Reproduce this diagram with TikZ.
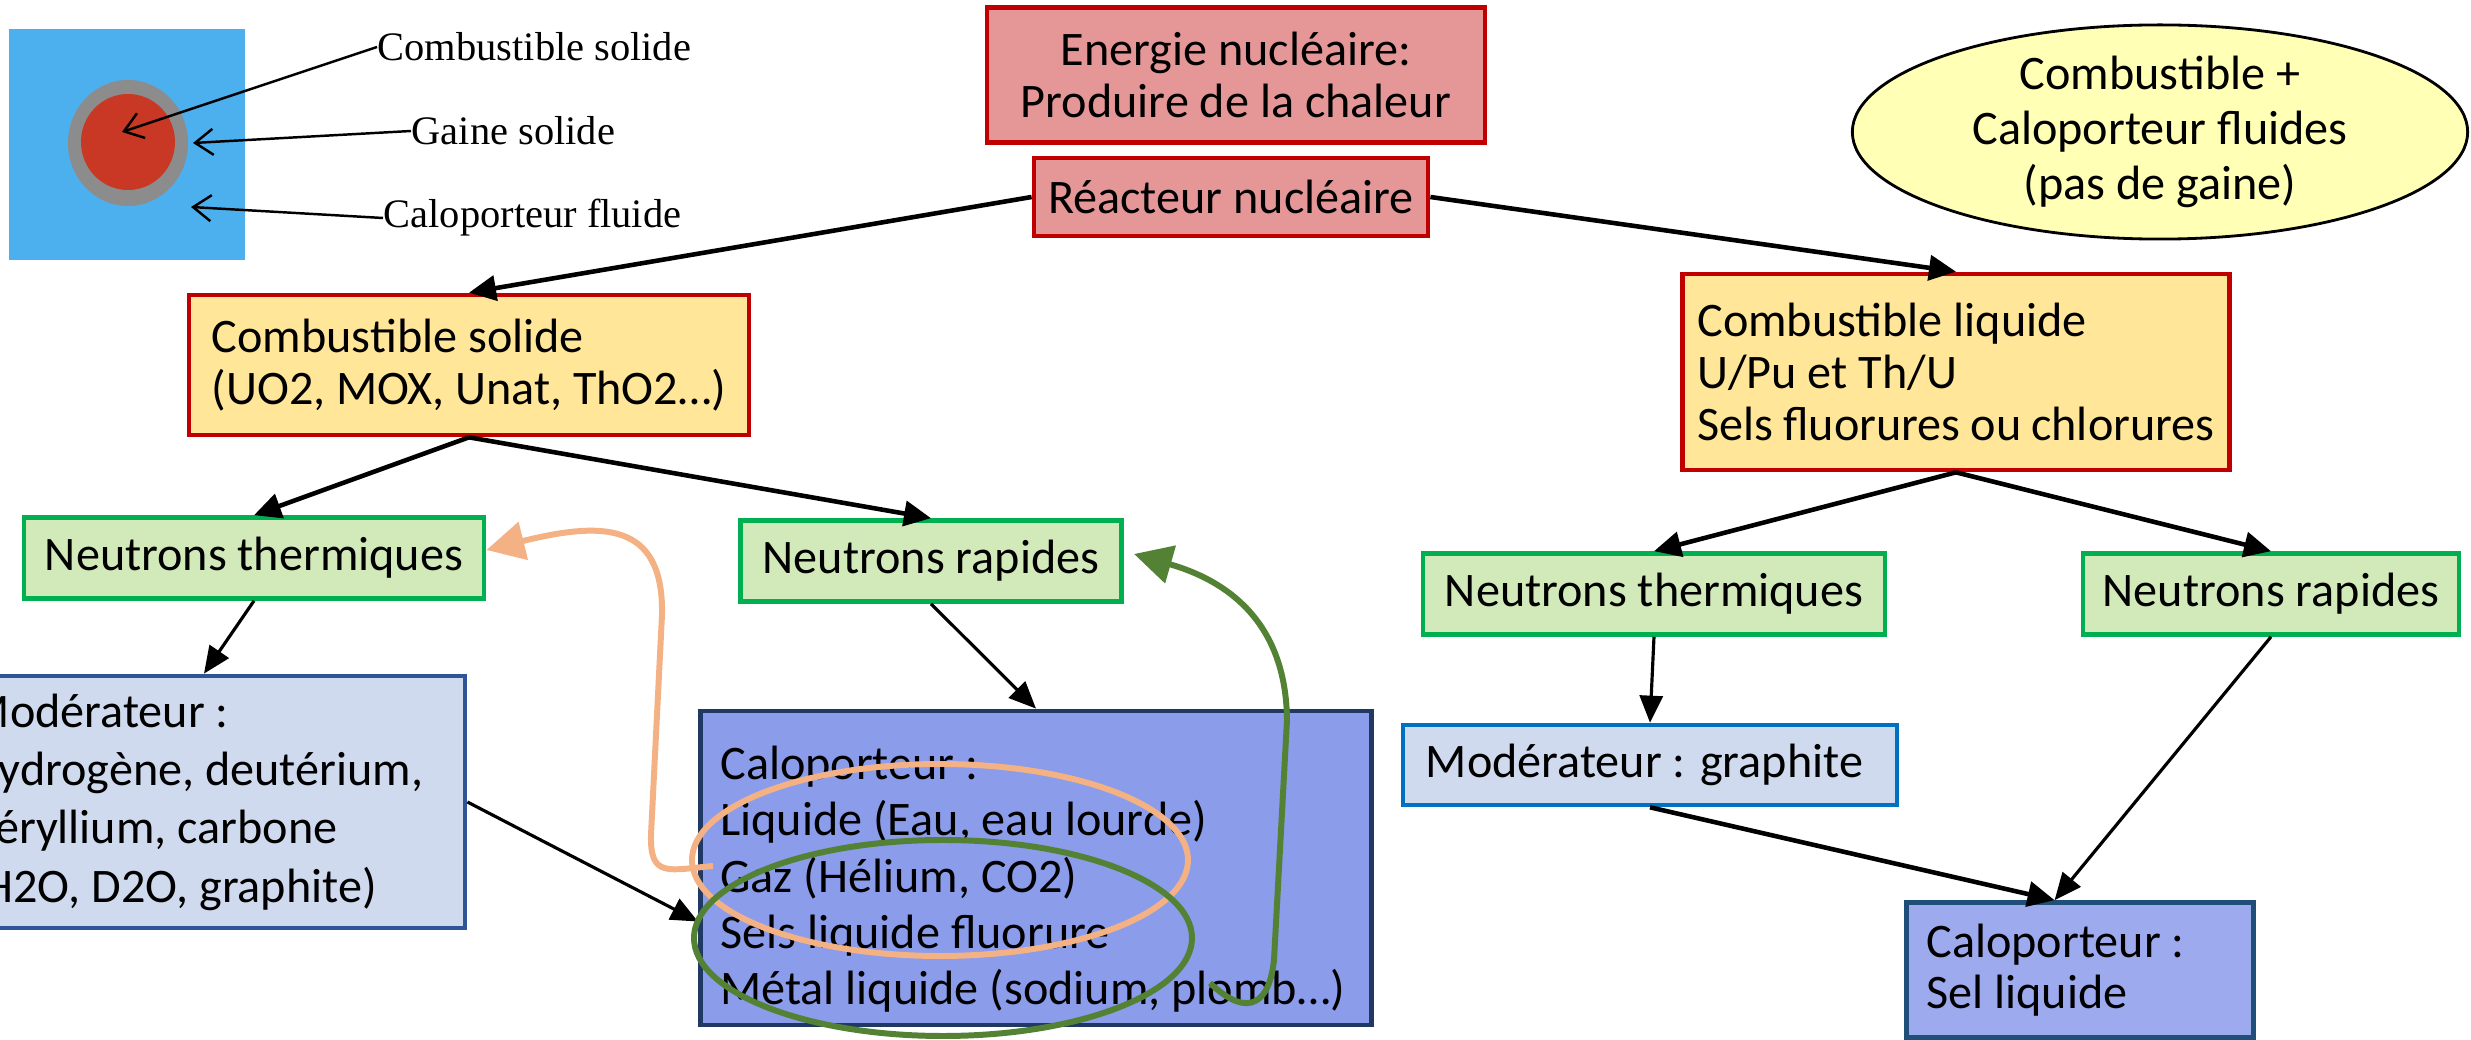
\documentclass[tikz,border=0pt]{standalone}
\usepackage{fontspec}
\setmainfont{Carlito}
\newfontfamily\figfont{Liberation Serif}
\usetikzlibrary{arrows.meta}
\usetikzlibrary{shapes.geometric}
\definecolor{rougebord}{HTML}{C00000}
\definecolor{rougefond}{RGB}{229,150,151}
\definecolor{jaunefond}{HTML}{FFE699}
\definecolor{vertbord}{HTML}{00B050}
\definecolor{vertfond}{RGB}{210,234,186}
\definecolor{modfond}{HTML}{CFDAEE}
\definecolor{modbord}{HTML}{2F5597}
\definecolor{modbordb}{HTML}{0070C0}
\definecolor{calofond}{RGB}{138,156,234}
\definecolor{calobord}{HTML}{203864}
\definecolor{selfond}{RGB}{158,170,238}
\definecolor{selbord}{HTML}{1F4E79}
\definecolor{bullefond}{RGB}{255,255,181}
\definecolor{orangetrait}{HTML}{F4B183}
\definecolor{verttrait}{HTML}{548235}
\definecolor{eaufond}{RGB}{76,175,238}
\definecolor{gainefond}{RGB}{140,140,140}
\definecolor{pastillefond}{RGB}{200,56,36}
\tikzset{
	boxstyle/.style={rectangle,line width=1.3pt,inner sep=0pt,font=\fontsize{13.7}{16.6}\selectfont},
	serre/.style={font=\fontsize{13.7}{14.8}\selectfont},
	chaleurstyle/.style={boxstyle,draw=rougebord,fill=rougefond,align=center},
	combstyle/.style={boxstyle,serre,draw=rougebord,fill=jaunefond,align=flush left,inner xsep=0.23cm},
	neutronstyle/.style={boxstyle,draw=vertbord,fill=vertfond,align=center},
	modstyle/.style={boxstyle,fill=modfond,align=flush left,inner xsep=0.24cm},
	calostyle/.style={boxstyle,align=flush left,inner xsep=0.2cm},
	bullestyle/.style={ellipse,draw=black,line width=0.8pt,fill=bullefond,inner sep=0pt,align=center,font=\fontsize{13.7}{15.6}\selectfont},
	arrowstyle/.style={-{Triangle[length=0.27cm,width=0.25cm]},line width=1.3pt},
	thinarrowstyle/.style={-{Triangle[length=0.27cm,width=0.23cm]},line width=0.9pt},
	loopstyle/.style={line width=1.7pt},
	labelstyle/.style={font=\figfont\fontsize{11.5}{13}\selectfont,inner sep=0pt,anchor=west},
	pointerstyle/.style={-{Straight Barb[length=0.18cm,width=0.26cm]},line width=0.7pt}
}
\begin{document}
\begin{tikzpicture}[x=0.01cm,y=-0.01cm]
		\useasboundingbox (0,0) rectangle (2471,1040);
		\clip (0,0) rectangle (2471,1040);
		% petit schema du crayon
		\fill[eaufond] (9,29) rectangle (245,260);
		\fill[gainefond] (128,143) ellipse [x radius=60,y radius=63];
		\fill[pastillefond] (128,142) ellipse [x radius=47,y radius=48];
		\coordinate (centre) at (122,132);
		\coordinate (gainebord) at (193,143);
		\coordinate (eaubord) at (191,207);
		\node[labelstyle] (lblcomb) at (377,47) {Combustible solide};
		\node[labelstyle] (lblgaine) at (411,131) {Gaine solide};
		\node[labelstyle] (lbleau) at (383,218) {Caloporteur fluide};
		\draw[pointerstyle] (lblcomb.west) -- (centre);
		\draw[pointerstyle] (lblgaine.west) -- (gainebord);
		\draw[pointerstyle] (lbleau.west) -- (eaubord);
		% arbre
		\node[chaleurstyle,serre,minimum width=4.98cm,minimum height=1.35cm] (energie) at (1236,75) {Energie nucléaire:\\Produire de la chaleur};
		\node[chaleurstyle,minimum width=3.94cm,minimum height=0.78cm] (reacteur) at (1231,197) {Réacteur nucléaire};
		\node[bullestyle,minimum width=6.15cm,minimum height=2.0cm] (bulle) at (2160,132) {Combustible +\\Caloporteur fluides\\(pas de gaine)};
		\node[combstyle,text width=5.14cm,minimum height=1.40cm] (combsol) at (469,365) {Combustible solide\\(UO2, MOX, Unat, ThO2…)};
		\node[combstyle,inner xsep=0.15cm,text width=5.17cm,minimum height=1.96cm] (combliq) at (1956,372) {Combustible liquide\\U/Pu et Th/U\\Sels fluorures ou chlorures};
		\node[neutronstyle,minimum width=4.60cm,minimum height=0.81cm] (ntherm) at (254,558) {Neutrons thermiques};
		\node[neutronstyle,minimum width=3.81cm,minimum height=0.81cm] (nrap) at (931,561) {Neutrons rapides};
		\node[neutronstyle,minimum width=4.62cm,minimum height=0.81cm] (nthermb) at (1654,594) {Neutrons thermiques};
		\node[neutronstyle,minimum width=3.76cm,minimum height=0.81cm] (nrapb) at (2271,594) {Neutrons rapides};
		\node[modstyle,draw=modbord,inner xsep=0.26cm,text width=4.70cm,minimum height=2.52cm] (mod) at (204,802) {Modérateur :\\Hydrogène, deutérium,\\Béryllium, carbone\\(H2O, D2O, graphite)};
		\node[calostyle,draw=calobord,fill=calofond,text width=6.31cm,minimum height=3.14cm,font=\fontsize{13.7}{16}\selectfont] (calo) at (1036,868) {\rule{0pt}{0.56cm}Caloporteur :\\Liquide (Eau, eau lourde)\\Gaz (Hélium, CO2)\\Sels liquide fluorure\\Métal liquide (sodium, plomb…)};
		\node[modstyle,draw=modbordb,inner xsep=0.23cm,text width=4.48cm,minimum height=0.80cm] (modb) at (1650,765) {Modérateur : graphite};
		\node[calostyle,draw=selbord,fill=selfond,text width=3.07cm,minimum height=1.35cm,font=\fontsize{13.7}{14.4}\selectfont] (calob) at (2080,970) {Caloporteur :\\Sel liquide};
		\draw[arrowstyle] (reacteur.west) -- (combsol.north);
		\draw[arrowstyle] (reacteur.east) -- (combliq.north);
		\draw[arrowstyle] (combsol.south) -- (ntherm.north);
		\draw[arrowstyle] (combsol.south) -- (nrap.north);
		\draw[arrowstyle] (combliq.south) -- (nthermb.north);
		\draw[arrowstyle] (combliq.south) -- (nrapb.north);
		\draw[thinarrowstyle] (ntherm.south) -- (mod.north);
		\draw[thinarrowstyle] (nrap.south) -- (calo.north);
		\draw[thinarrowstyle] (mod.east) -- (calo.189);
		\draw[thinarrowstyle] (nthermb.south) -- (modb.north);
		\draw[arrowstyle] (modb.south) -- (calob.110);
		\draw[thinarrowstyle] (nrapb.south) -- (calob.110);
		% boucles sur les caloporteurs
		\draw[loopstyle,orangetrait] (940,860) ellipse [x radius=248,y radius=96];
		\draw[loopstyle,verttrait] (943,938) ellipse [x radius=249,y radius=98];
		\coordinate (gazdepart) at (713,866);
		\coordinate (metaldepart) at (1210,983);
		\draw[loopstyle,orangetrait,-{Triangle[length=0.38cm,width=0.38cm]}] (gazdepart) .. controls (668,870) and (650,878) .. (651,835) -- (662,615) .. controls (664,520) and (600,522) .. (ntherm.east |- 0,550);
		\draw[loopstyle,verttrait,-{Triangle[length=0.38cm,width=0.38cm]}] (metaldepart) .. controls (1240,1012) and (1268,1014) .. (1274,960) -- (1287,720) .. controls (1286,620) and (1225,580) .. (1134,554);
\end{tikzpicture}
\end{document}
